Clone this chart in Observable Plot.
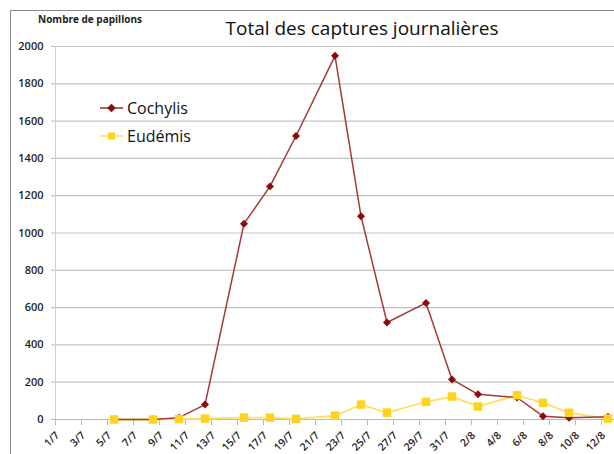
<!DOCTYPE html>
<html>
<head>
<meta charset="utf-8">
<script src="https://cdn.jsdelivr.net/npm/d3@7"></script>
<script src="https://cdn.jsdelivr.net/npm/@observablehq/plot@0.6"></script>
<style>
  html, body { margin: 0; padding: 0; background: #fff; }
  #wrap { position: relative; width: 614px; height: 454px; overflow: hidden; font-family: "Open Sans", sans-serif; }
  #frame { position: absolute; left: 10px; top: 10px; width: 700px; height: 500px; border: 1px solid #8a8a8a; box-sizing: border-box; }
  #title { position: absolute; left: 0; width: 724px; top: 15px; text-align: center; font-size: 19px; color: #111; }
  #ylab { position: absolute; left: 38px; top: 12px; font-size: 10px; font-weight: 700; color: #222; }
  #chart { position: absolute; left: 0; top: 0; }
  .leg { position: absolute; left: 100px; font-size: 16px; color: #111; display: flex; align-items: center; }
  .leg svg { margin-right: 4px; }
</style>
</head>
<body>
<div id="wrap">
  <div id="frame"></div>
  <div id="chart"></div>
  <div id="title">Total des captures journalières</div>
  <div id="ylab">Nombre de papillons</div>
  <div class="leg" style="top:97px"><svg width="23" height="10"><line x1="0" y1="5" x2="23" y2="5" stroke="#a33a38" stroke-width="1.6"/><rect x="8.5" y="2" width="6" height="6" transform="rotate(45 11.5 5)" fill="#8b0a0a"/></svg>Cochylis</div>
  <div class="leg" style="top:125px"><svg width="23" height="10"><line x1="0" y1="5" x2="23" y2="5" stroke="#ffe060" stroke-width="1.6"/><rect x="8" y="1.5" width="7" height="7" fill="#ffd21f"/></svg>Eudémis</div>
</div>
<script>
// Data
const dates = ["5/7","8/7","10/7","12/7","15/7","17/7","19/7","22/7","24/7","26/7","29/7","31/7","2/8","5/8","7/8","9/8","12/8"];
const cochylis = [0,0,10,80,1050,1250,1520,1950,1090,520,625,215,135,118,18,10,15];
const eudemis = [0,0,2,5,10,10,3,20,80,37,94,123,70,130,89,36,5];
const tickLabels = ["1/7","3/7","5/7","7/7","9/7","11/7","13/7","15/7","17/7","19/7","21/7","23/7","25/7","27/7","29/7","31/7","2/8","4/8","6/8","8/8","10/8","12/8"];
const yTicks = [0,200,400,600,800,1000,1200,1400,1600,1800,2000];

// day index since 1/7
function dayIndex(s) {
  const [d, m] = s.split("/").map(Number);
  return m === 7 ? d - 1 : 30 + d;
}
const rowsC = dates.map((d, i) => ({x: dayIndex(d) + 0.5, y: cochylis[i]}));
const rowsE = dates.map((d, i) => ({x: dayIndex(d) + 0.5, y: eudemis[i]}));
const ticks = tickLabels.map(t => ({x: dayIndex(t), label: t}));

const chart = Plot.plot({
  width: 614,
  height: 454,
  marginLeft: 55,
  marginRight: 0,
  marginTop: 46,
  marginBottom: 35,
  style: {fontFamily: "Open Sans, sans-serif", background: "transparent"},
  x: {type: "linear", domain: [0, 43], axis: null},
  y: {type: "linear", domain: [0, 2000], axis: null},
  marks: [
    Plot.ruleY(yTicks.filter(v => v > 0), {stroke: "#c4c4c4", strokeWidth: 1.2}),
    Plot.ruleY(yTicks, {x1: 0, x2: 0, insetLeft: -4, stroke: "#bbb"}),
    Plot.ruleX([0], {stroke: "#d0d0d0"}),
    Plot.ruleY([0], {stroke: "#b8b8b8", strokeWidth: 1.2}),
    Plot.text(yTicks, {x: 0, y: d => d, text: d => String(d), textAnchor: "end", dx: -12, fontSize: 11, fontWeight: 600, fill: "#222"}),
    Plot.ruleX(ticks, {x: "x", y1: 0, y2: 0, insetBottom: -6, stroke: "#bbb"}),
    Plot.text(ticks, {x: "x", y: 0, text: "label", rotate: -45, textAnchor: "end", dy: 14, dx: 2, fontSize: 10.5, fontWeight: 600, fill: "#222"}),
    Plot.line(rowsE, {x: "x", y: "y", stroke: "#ffe060", strokeWidth: 1.8}),
    Plot.line(rowsC, {x: "x", y: "y", stroke: "#a33a38", strokeWidth: 1.5}),
    Plot.dot(rowsC, {x: "x", y: "y", symbol: "diamond2", r: 3.6, fill: "#8b0a0a", stroke: "none"}),
    Plot.dot(rowsE, {x: "x", y: "y", symbol: "square", r: 4.8, fill: "#ffd21f", stroke: "none"})
  ]
});
document.getElementById("chart").appendChild(chart);
</script>
</body>
</html>
